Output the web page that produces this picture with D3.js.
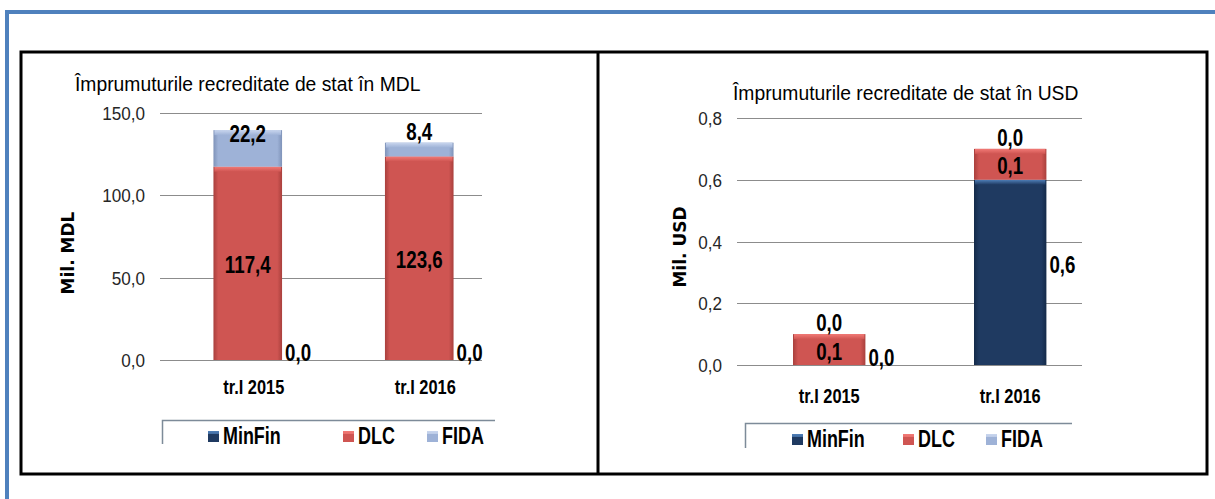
<!DOCTYPE html>
<html>
<head>
<meta charset="utf-8">
<title>Imprumuturi recreditate</title>
<script src="https://d3js.org/d3.v7.min.js"></script>
<style>
    body { margin: 0; background: #fff; }
    svg text { font-family: 'Liberation Sans', Arial, sans-serif; fill: #000; }
    .grid line { stroke: #8c8c8c; stroke-width: 1; shape-rendering: crispEdges; }
    .tick-label { font-size: 19px; fill: #262626; }
    .cat-label { font-size: 20px; font-weight: bold; }
    .val-label { font-size: 24px; font-weight: bold; }
    .title { font-size: 21px; }
    .ytitle { font-family: 'DejaVu Sans', sans-serif !important; font-size: 17px; font-weight: bold; }
    .legend-text { font-size: 23px; font-weight: bold; }
</style>
</head>
<body>
<svg id="page" width="1215" height="499"></svg>
<script>
// data
const categories = ['tr.I 2015', 'tr.I 2016'];
const seriesNames = ['MinFin', 'DLC', 'FIDA'];

const mdlMinFin = [0.0, 0.0];
const mdlDLC = [117.4, 123.6];
const mdlFIDA = [22.2, 8.4];
const mdlTicks = [0, 50, 100, 150];

const usdMinFin = [0.0, 0.6];
const usdDLC = [0.1, 0.1];
const usdFIDA = [0.0, 0.0];
const usdTicks = [0, 0.2, 0.4, 0.6, 0.8];

const colors = {
    MinFin: { base: '#1f3a61', edge: '#142a49', hi: '#4f7fb8' },
    DLC: { base: '#cf5552', edge: '#a9403d', hi: '#f27a76' },
    FIDA: { base: '#9eb2d7', edge: '#7f93b9', hi: '#c9d6ee' }
};

const fmt = d3.formatLocale({ decimal: ',', thousands: '.', grouping: [3], currency: ['', ''] }).format('.1f');

// the original uses a narrow font, so the text gets squeezed a bit
function at(sel, x, y, sx) {
    return sel.attr('transform', 'translate(' + x + ',' + y + ') scale(' + sx + ',1)');
}

const svg = d3.select('#page');
const defs = svg.append('defs');

seriesNames.forEach(function(s) {
    let g = defs.append('linearGradient').attr('id', 'grad-' + s)
        .attr('x1', 0).attr('x2', 1).attr('y1', 0).attr('y2', 0);
    g.append('stop').attr('offset', '0%').attr('stop-color', colors[s].edge);
    g.append('stop').attr('offset', '7%').attr('stop-color', colors[s].base);
    g.append('stop').attr('offset', '93%').attr('stop-color', colors[s].base);
    g.append('stop').attr('offset', '100%').attr('stop-color', colors[s].edge);
    let h = defs.append('linearGradient').attr('id', 'hi-' + s)
        .attr('x1', 0).attr('x2', 0).attr('y1', 0).attr('y2', 1);
    h.append('stop').attr('offset', '0%').attr('stop-color', colors[s].hi);
    h.append('stop').attr('offset', '100%').attr('stop-color', colors[s].base);
});

// page frame
svg.append('line').attr('x1', 5).attr('x2', 1215).attr('y1', 12).attr('y2', 12)
    .attr('stroke', '#4f81bd').attr('stroke-width', 4);
svg.append('line').attr('x1', 7).attr('x2', 7).attr('y1', 10).attr('y2', 499)
    .attr('stroke', '#4f81bd').attr('stroke-width', 4);
svg.append('rect').attr('x', 21).attr('y', 52).attr('width', 1186).attr('height', 422)
    .attr('fill', 'none').attr('stroke', '#000').attr('stroke-width', 3);
svg.append('line').attr('x1', 598).attr('x2', 598).attr('y1', 52).attr('y2', 474)
    .attr('stroke', '#000').attr('stroke-width', 3);

function drawChart(cfg) {
    let rows = categories.map(function(c, i) {
        return { cat: c, MinFin: cfg.minfin[i], DLC: cfg.dlc[i], FIDA: cfg.fida[i] };
    });
    let stacked = d3.stack().keys(seriesNames)(rows);

    let x = d3.scaleBand().domain(categories).range(cfg.band)
        .paddingInner(0.6).paddingOuter(0.3);
    let y = d3.scaleLinear().domain([0, d3.max(cfg.ticks)]).range([cfg.bottom, cfg.top]);

    let g = svg.append('g');

    // title
    at(g.append('text').attr('class', 'title'), cfg.titleX, cfg.titleY, 0.92)
        .text(cfg.title);

    // grid
    g.append('g').attr('class', 'grid').selectAll('line').data(cfg.ticks).join('line')
        .attr('x1', cfg.left).attr('x2', cfg.right)
        .attr('y1', function(d) { return Math.round(y(d)) + 0.5; })
        .attr('y2', function(d) { return Math.round(y(d)) + 0.5; });

    g.append('g').selectAll('text').data(cfg.ticks).join('text')
        .attr('class', 'tick-label')
        .attr('transform', function(d) {
            return 'translate(' + (cfg.left - 15) + ',' + (y(d) + 7) + ') scale(0.9,1)';
        })
        .attr('text-anchor', 'end')
        .text(function(d) { return fmt(d); });

    g.append('text').attr('class', 'ytitle')
        .attr('transform', 'translate(' + cfg.yTitleX + ',' + cfg.yTitleY + ') rotate(-90)')
        .attr('text-anchor', 'middle').attr('dy', '0.35em')
        .text(cfg.yTitle);

    // bars
    stacked.forEach(function(layer) {
        let s = layer.key;
        let lg = g.append('g');
        layer.forEach(function(d) {
            let h = y(d[0]) - y(d[1]);
            if (h <= 0.5) return;
            let bx = x(d.data.cat);
            lg.append('rect').attr('x', bx).attr('y', y(d[1]))
                .attr('width', x.bandwidth()).attr('height', h)
                .attr('fill', 'url(#grad-' + s + ')');
            lg.append('rect').attr('x', bx + 1).attr('y', y(d[1]))
                .attr('width', x.bandwidth() - 2).attr('height', Math.min(5, h))
                .attr('fill', 'url(#hi-' + s + ')');
        });
    });

    // value labels
    stacked.forEach(function(layer) {
        let s = layer.key;
        layer.forEach(function(d) {
            let top = y(d[1]), bot = y(d[0]);
            let cx = x(d.data.cat) + x.bandwidth() / 2;
            let px, py, anchor = 'middle';
            if (s === 'MinFin') {
                px = x(d.data.cat) + x.bandwidth() + 3;
                py = (top + bot) / 2 - 7;
                anchor = 'start';
            } else if (s === 'DLC') {
                px = cx; py = (top + bot) / 2 + 2;
            } else {
                px = cx;
                py = (bot - top > 20) ? top + 4 : top - 11;
            }
            at(g.append('text').attr('class', 'val-label'), px, py + 8, 0.78)
                .attr('text-anchor', anchor)
                .text(fmt(d.data[s]));
        });
    });

    // category labels
    g.append('g').selectAll('text').data(categories).join('text')
        .attr('class', 'cat-label')
        .attr('transform', function(d) {
            return 'translate(' + (x(d) + x.bandwidth() / 2 + cfg.catShift) + ',' + cfg.catY + ') scale(0.82,1)';
        })
        .attr('text-anchor', 'middle')
        .text(function(d) { return d; });

    // legend (clipped at bottom as in the original)
    let clipId = 'clip-' + cfg.id;
    defs.append('clipPath').attr('id', clipId).append('rect')
        .attr('x', cfg.legX0 - 2).attr('y', cfg.legY - 2)
        .attr('width', cfg.legX1 - cfg.legX0 + 4).attr('height', cfg.legY1 - cfg.legY + 2);
    let leg = g.append('g').attr('clip-path', 'url(#' + clipId + ')');
    leg.append('path')
        .attr('d', 'M' + (cfg.legX0 + 0.5) + ',' + cfg.legY1 + 'V' + (cfg.legY + 0.5) + 'H' + cfg.legX1)
        .attr('fill', 'none').attr('stroke', '#7d8b99').attr('stroke-width', 1.5);
    seriesNames.forEach(function(s, i) {
        let lx = cfg.legItems[i];
        leg.append('rect').attr('x', lx).attr('y', cfg.legY + 11)
            .attr('width', 11).attr('height', 11)
            .attr('fill', 'url(#hi-' + s + ')');
        leg.append('rect').attr('x', lx).attr('y', cfg.legY + 14)
            .attr('width', 11).attr('height', 8)
            .attr('fill', colors[s].base);
        at(leg.append('text').attr('class', 'legend-text'), lx + 15, cfg.legY + 24, 0.78)
            .text(s);
    });
}

drawChart({
    id: 'mdl',
    title: 'Împrumuturile recreditate de stat în MDL',
    titleX: 75, titleY: 91,
    yTitle: 'Mil. MDL', yTitleX: 68, yTitleY: 253,
    minfin: mdlMinFin, dlc: mdlDLC, fida: mdlFIDA, ticks: mdlTicks,
    left: 160, right: 482, top: 113, bottom: 360,
    band: [162, 505],
    catY: 394, catShift: 6,
    legX0: 162, legX1: 495, legY: 420, legY1: 444,
    legItems: [208, 343, 427]
});

drawChart({
    id: 'usd',
    title: 'Împrumuturile recreditate de stat în USD',
    titleX: 733, titleY: 100,
    yTitle: 'Mil. USD', yTitleX: 680, yTitleY: 247,
    minfin: usdMinFin, dlc: usdDLC, fida: usdFIDA, ticks: usdTicks,
    left: 737, right: 1082, top: 118, bottom: 365,
    band: [738.7, 1100.7],
    catY: 403, catShift: 0,
    legX0: 745, legX1: 1072, legY: 423, legY1: 448,
    legItems: [792, 903, 986]
});
</script>
</body>
</html>
